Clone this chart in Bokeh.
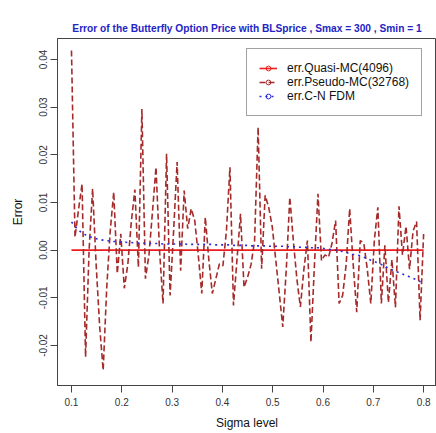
from bokeh.plotting import figure
from bokeh.models import (Range1d, FixedTicker, NumeralTickFormatter, Legend,
                          LegendItem)
from bokeh.embed import file_html
from bokeh.resources import INLINE

# Sigma grid used by the three pricing methods
sigma = [0.100, 0.107, 0.114, 0.121, 0.128, 0.135, 0.142, 0.149, 0.156, 0.163,
         0.170, 0.177, 0.184, 0.191, 0.198, 0.205, 0.212, 0.219, 0.226, 0.233,
         0.240, 0.247, 0.254, 0.261, 0.268, 0.275, 0.282, 0.289, 0.296, 0.303,
         0.310, 0.317, 0.324, 0.331, 0.338, 0.345, 0.352, 0.359, 0.366, 0.373,
         0.380, 0.387, 0.394, 0.401, 0.408, 0.415, 0.422, 0.429, 0.436, 0.443,
         0.450, 0.457, 0.464, 0.471, 0.478, 0.485, 0.492, 0.499, 0.506, 0.513,
         0.520, 0.527, 0.534, 0.541, 0.548, 0.555, 0.562, 0.569, 0.576, 0.583,
         0.590, 0.597, 0.604, 0.611, 0.618, 0.625, 0.632, 0.639, 0.646, 0.653,
         0.660, 0.667, 0.674, 0.681, 0.688, 0.695, 0.702, 0.709, 0.716, 0.723,
         0.730, 0.737, 0.744, 0.751, 0.758, 0.765, 0.772, 0.779, 0.786, 0.793,
         0.800]

# Quasi Monte Carlo (4096 paths) error against BLSprice
err_qmc = [0.0000, 0.0000, 0.0000, 0.0000, 0.0000, 0.0000, 0.0000, 0.0000, 0.0000, 0.0000,
           0.0000, 0.0000, 0.0000, 0.0000, 0.0000, 0.0000, 0.0000, 0.0000, 0.0000, 0.0000,
           0.0000, 0.0000, 0.0000, 0.0000, 0.0000, 0.0000, 0.0000, 0.0000, 0.0000, 0.0000,
           0.0000, 0.0000, 0.0000, 0.0000, 0.0000, 0.0000, 0.0000, 0.0000, 0.0000, 0.0000,
           0.0000, 0.0000, 0.0000, 0.0000, 0.0000, 0.0000, 0.0000, 0.0000, 0.0000, 0.0000,
           0.0000, 0.0000, 0.0000, 0.0000, 0.0000, 0.0000, 0.0000, 0.0000, 0.0000, 0.0000,
           0.0000, 0.0000, 0.0000, 0.0000, 0.0000, 0.0000, 0.0000, 0.0000, 0.0000, 0.0000,
           0.0000, 0.0000, 0.0000, 0.0000, 0.0000, 0.0000, 0.0000, 0.0000, 0.0000, 0.0000,
           0.0000, 0.0000, 0.0000, 0.0000, 0.0000, 0.0000, 0.0000, 0.0000, 0.0000, 0.0000,
           0.0000, 0.0000, 0.0000, 0.0000, 0.0000, 0.0000, 0.0000, 0.0000, 0.0000, 0.0000,
           0.0000]

# Pseudo Monte Carlo (32768 paths) error against BLSprice
err_pmc = [0.0419, 0.0027, 0.0085, 0.0139, -0.0224, 0.0000, 0.0129, -0.0030, -0.0160, -0.0252,
           -0.0080, 0.0040, 0.0122, -0.0049, 0.0034, -0.0080, -0.0030, 0.0060, 0.0127, -0.0036,
           0.0296, -0.0060, -0.0010, 0.0080, 0.0174, 0.0000, -0.0112, 0.0202, -0.0095, 0.0040,
           0.0185, -0.0043, 0.0125, 0.0045, 0.0087, 0.0062, -0.0010, -0.0091, 0.0069, -0.0020,
           -0.0091, -0.0060, -0.0029, -0.0033, 0.0040, 0.0174, -0.0116, -0.0020, 0.0076, -0.0078,
           -0.0057, -0.0030, 0.0020, 0.0258, -0.0039, 0.0115, 0.0090, 0.0050, -0.0020, -0.0090,
           -0.0161, -0.0040, 0.0111, 0.0020, -0.0060, -0.0119, -0.0040, 0.0020, -0.0193, -0.0030,
           0.0118, -0.0022, -0.0010, -0.0015, 0.0015, 0.0062, -0.0112, -0.0095, -0.0030, 0.0087,
           -0.0030, -0.0130, 0.0020, 0.0015, -0.0040, -0.0112, 0.0020, 0.0090, -0.0112, 0.0010,
           -0.0110, -0.0020, -0.0120, 0.0092, -0.0010, 0.0050, -0.0040, 0.0040, 0.0060, -0.0147,
           0.0034]

# Crank-Nicolson finite difference error against BLSprice
err_fdm = [0.0059, 0.0050, 0.0042, 0.0036, 0.0032, 0.0029, 0.0026, 0.0024, 0.0022, 0.0021,
           0.0020, 0.0019, 0.0018, 0.0018, 0.0017, 0.0017, 0.0016, 0.0016, 0.0015, 0.0015,
           0.0015, 0.0014, 0.0014, 0.0014, 0.0014, 0.0014, 0.0013, 0.0013, 0.0013, 0.0013,
           0.0013, 0.0013, 0.0013, 0.0012, 0.0012, 0.0012, 0.0012, 0.0012, 0.0012, 0.0012,
           0.0012, 0.0011, 0.0011, 0.0011, 0.0011, 0.0011, 0.0010, 0.0010, 0.0010, 0.0010,
           0.0010, 0.0009, 0.0009, 0.0009, 0.0009, 0.0009, 0.0008, 0.0008, 0.0008, 0.0008,
           0.0008, 0.0007, 0.0007, 0.0007, 0.0007, 0.0006, 0.0006, 0.0006, 0.0005, 0.0005,
           0.0005, 0.0004, 0.0003, 0.0002, 0.0001, 0.0000, -0.0002, -0.0003, -0.0005, -0.0007,
           -0.0009, -0.0010, -0.0012, -0.0015, -0.0018, -0.0021, -0.0024, -0.0027, -0.0030, -0.0034,
           -0.0038, -0.0041, -0.0044, -0.0047, -0.0050, -0.0053, -0.0056, -0.0059, -0.0062, -0.0066,
           -0.0069]

x_ticks = [0.1, 0.2, 0.3, 0.4, 0.5, 0.6, 0.7, 0.8]
y_ticks = [-0.02, -0.01, 0.0, 0.01, 0.02, 0.03, 0.04]

labels = ["err.Quasi-MC(4096)", "err.Pseudo-MC(32768)", "err.C-N FDM"]
colors = ["#ee1c1c", "#a52a2a", "#2a2ae0"]
dashes = ["solid", "6 3", "2 4"]

FONT = "Liberation Sans"
AXIS_COLOR = "#444444"

# the plotting box runs past the right edge of the page, as in the original figure
p = figure(width=436, height=433, output_backend="svg", toolbar_location=None,
           x_range=Range1d(0.0722, 0.8256), y_range=Range1d(-0.0284, 0.0444),
           min_border_left=57, min_border_right=0, min_border_top=38,
           min_border_bottom=48, outline_line_color=AXIS_COLOR,
           outline_line_width=1,
           background_fill_color="white", border_fill_color="white")

p.title.text = "Error of the Butterfly Option Price with BLSprice , Smax = 300 , Smin = 1"
p.title.align = "center"
p.title.text_font = FONT
p.title.text_font_size = "10.2px"
p.title.text_font_style = "bold"
p.title.text_color = "#2424c4"
p.title.standoff = 10

p.xgrid.visible = False
p.ygrid.visible = False

for ax in (p.xaxis[0], p.yaxis[0]):
    ax.major_tick_out = 7
    ax.major_tick_in = 0
    ax.minor_tick_line_color = None
    ax.axis_line_color = AXIS_COLOR
    ax.major_tick_line_color = AXIS_COLOR
    ax.major_label_text_font = FONT
    ax.major_label_text_font_size = "10px"
    ax.major_label_text_color = "#333333"
    ax.axis_label_text_font = FONT
    ax.axis_label_text_font_size = "12px"
    ax.axis_label_text_font_style = "normal"
    ax.axis_label_text_color = "#111111"

p.xaxis.ticker = FixedTicker(ticks=x_ticks)
p.xaxis.formatter = NumeralTickFormatter(format="0.0")
p.xaxis.axis_label = "Sigma level"
p.xaxis.major_label_standoff = 5
p.xaxis.axis_label_standoff = 7

p.yaxis.ticker = FixedTicker(ticks=y_ticks)
p.yaxis.formatter = NumeralTickFormatter(format="0.00")
p.yaxis.major_label_orientation = "vertical"
p.yaxis.axis_label = "Error"
p.yaxis.major_label_standoff = 3
p.yaxis.axis_label_standoff = 12

nan = float("nan")
series = [err_qmc, err_pmc, err_fdm]
items = []
for name, ys, col, dash in zip(labels, series, colors, dashes):
    r = p.line(sigma, ys, line_color=col, line_width=1.6, line_dash=dash)
    # marker used only for the legend key (no visible point in the plot)
    m = p.scatter(x=[nan], y=[nan], marker="circle", size=5, fill_color=None,
                  line_color=col, line_width=1)
    items.append(LegendItem(label=name, renderers=[r, m]))

legend = Legend(items=items, location=(189, 269), orientation="vertical",
                border_line_color=AXIS_COLOR, border_line_width=1,
                background_fill_color="white", background_fill_alpha=1.0,
                padding=12, spacing=0, margin=0,
                glyph_width=18, glyph_height=12, label_height=12,
                label_standoff=10, label_text_font=FONT,
                label_text_font_size="12px", label_text_color="#111111")
p.add_layout(legend)

open("out.html", "w").write(file_html(p, INLINE))
